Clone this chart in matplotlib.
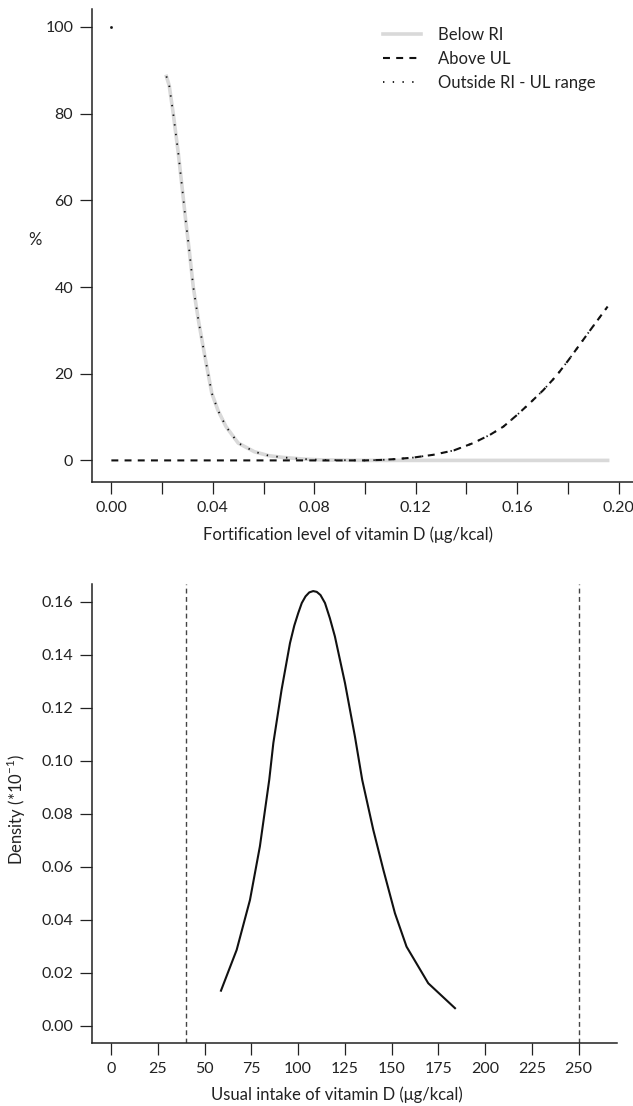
import numpy as np
import matplotlib
matplotlib.use("Agg")
import matplotlib.pyplot as plt

plt.rcParams['font.family'] = ['Lato', 'DejaVu Sans']
plt.rcParams['lines.scale_dashes'] = False
plt.rcParams['mathtext.fontset'] = 'custom'
plt.rcParams['mathtext.rm'] = 'Lato'

# --- panel 1: share of population outside range, by fortification level ---
nivel = [0.000, 0.010, 0.0217, 0.0228, 0.0244, 0.0264, 0.0281, 0.0293, 0.0307,
         0.0323, 0.0343, 0.0369, 0.0396, 0.0420, 0.0452, 0.0500, 0.0564, 0.0620,
         0.0675, 0.0760, 0.0835, 0.0920, 0.1000, 0.1060, 0.1120, 0.1190, 0.1270,
         0.1350, 0.1427, 0.1493, 0.1546, 0.1600, 0.1650, 0.1703, 0.1756, 0.1802,
         0.1848, 0.1894, 0.1957]
bajo_ri = [100, np.nan, 88.6, 86.5, 80.0, 70.8, 61.9, 55.4, 48.5,
           40.0, 32.4, 23.9, 15.5, 11.6, 7.8, 4.0, 2.0, 1.1,
           0.7, 0.3, 0.1, 0.05, 0.0, 0.0, 0.0, 0.0, 0.0,
           0.0, 0.0, 0.0, 0.0, 0.0, 0.0, 0.0, 0.0, 0.0,
           0.0, 0.0, 0.0]
sobre_ul = [0, 0, 0, 0, 0, 0, 0, 0, 0,
            0, 0, 0, 0, 0, 0, 0, 0, 0,
            0, 0, 0, 0, 0.0, 0.1, 0.3, 0.65, 1.3,
            2.3, 4.0, 5.9, 7.8, 10.5, 13.2, 16.2, 19.6, 23.1,
            26.8, 30.5, 35.5]
fuera = np.array(bajo_ri) + np.array(sobre_ul)

# --- panel 2: usual intake distribution ---
ingesta = [58.8, 67.2, 74.3, 79.6, 84.6, 86.8, 91.2, 95.7, 98.0, 100.1, 102.0,
           104.0, 106.0, 108.1, 110.0, 112.0, 114.4, 117.0, 119.7, 125.1, 130.4,
           134.3, 140.2, 145.6, 151.8, 158.0, 169.6, 183.9]
densidad = [0.0133, 0.0287, 0.0475, 0.0677, 0.0928, 0.1067, 0.1268, 0.1444, 0.1510,
            0.1557, 0.1595, 0.1620, 0.1635, 0.1640, 0.1637, 0.1625, 0.1595, 0.1538,
            0.1469, 0.1293, 0.1092, 0.0928, 0.0740, 0.0589, 0.0425, 0.0299, 0.0161,
            0.0067]
ri, ul = 40, 250

FS = 12
FS_TICK = 11.5
C_EJE = '#222222'

fig = plt.figure(figsize=(6.33, 11.06), dpi=100)
ax1 = fig.add_axes([0.1453, 0.5642, 0.8547, 0.4277])
ax2 = fig.add_axes([0.1453, 0.0570, 0.8294, 0.4150])


def estilo(ax):
    for s in ('top', 'right'):
        ax.spines[s].set_visible(False)
    for s in ('left', 'bottom'):
        ax.spines[s].set_linewidth(1.1)
        ax.spines[s].set_color(C_EJE)
    ax.tick_params(length=8.5, width=0.9, color=C_EJE, labelcolor=C_EJE,
                   labelsize=FS_TICK, pad=5)


# panel 1
ax1.plot(nivel, bajo_ri, color='#d9d9d9', lw=2.6, label='Below RI', zorder=1)
ax1.plot(nivel, sobre_ul, color='#111111', lw=1.5, dashes=(5, 4.5),
         label='Above UL', zorder=2)
ax1.plot(nivel, fuera, color='#111111', lw=1.3, dashes=(1, 6),
         label='Outside RI - UL range', zorder=3)
ax1.plot(nivel[0], fuera[0], 's', ms=0.9, color='#111111')
ax1.set_xlim(-0.00765, 0.2057)
ax1.set_ylim(-4.98, 104.15)
ax1.set_xticks(np.arange(0, 0.201, 0.02))
ax1.set_xticklabels([f'{v:.2f}' if i % 2 == 0 else '' for i, v in
                     enumerate(np.arange(0, 0.201, 0.02))])
ax1.set_yticks([0, 20, 40, 60, 80, 100])
estilo(ax1)
ax1.set_xlabel('Fortification level of vitamin D (\u03bcg/kcal)', fontsize=FS, color=C_EJE)
ax1.xaxis.set_label_coords(0.474, -0.095)
ax1.set_ylabel('%', rotation=0, fontsize=FS, color=C_EJE)
ax1.yaxis.set_label_coords(-0.105, 0.495)
ax1.legend(loc='upper left', bbox_to_anchor=(0.525, 0.977), frameon=False,
           fontsize=FS, handlelength=2.3, handletextpad=1.0, labelspacing=0.5,
           borderaxespad=0, labelcolor=C_EJE)

# panel 2
ax2.axvline(ri, color='#444444', lw=1.0, dashes=(3.5, 2.5), zorder=1)
ax2.axvline(ul, color='#444444', lw=1.0, dashes=(3.5, 2.5), zorder=1)
ax2.plot(ingesta, densidad, color='#111111', lw=1.5, zorder=2)
ax2.set_xlim(-10.16, 270.5)
ax2.set_ylim(-0.00642, 0.16668)
ax2.set_xticks(np.arange(0, 251, 25))
ax2.set_yticks(np.arange(0, 0.161, 0.02))
ax2.set_yticklabels([f'{v:.2f}' for v in np.arange(0, 0.161, 0.02)])
estilo(ax2)
ax2.set_xlabel('Usual intake of vitamin D (\u03bcg/kcal)', fontsize=FS, color=C_EJE)
ax2.xaxis.set_label_coords(0.467, -0.094)
ax2.set_ylabel('Density (*10$^{\\mathregular{-1}}$)', fontsize=FS, color=C_EJE)
ax2.yaxis.set_label_coords(-0.122, 0.508)

fig.savefig('out.png', dpi=100)
